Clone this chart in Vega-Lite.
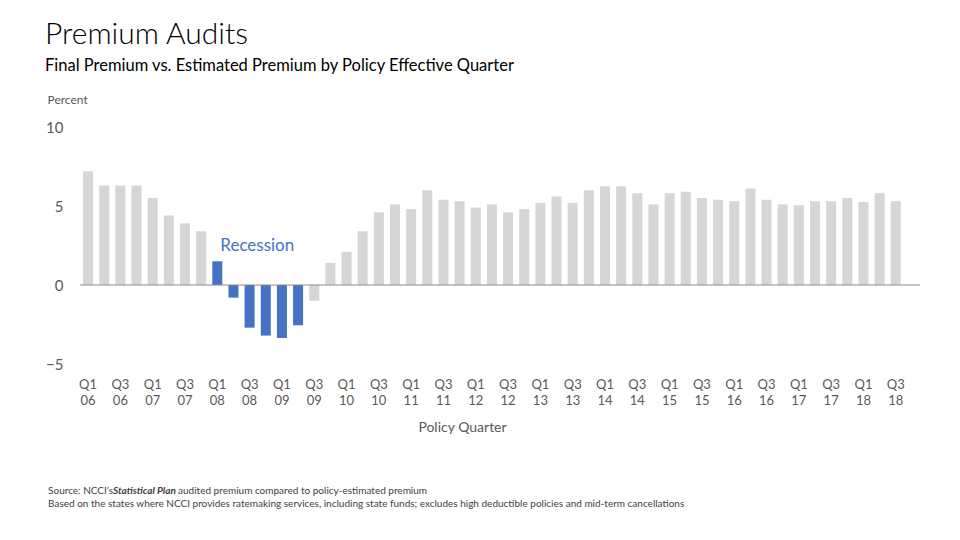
{
  "$schema": "https://vega.github.io/schema/vega-lite/v6.json",
  "width": 840,
  "height": 237,
  "autosize": {"type": "none"},
  "padding": {"left": 80, "top": 127, "right": 40, "bottom": 176},
  "background": "white",
  "config": {"view": {"stroke": null}, "font": "Lato"},
  "title": {
    "text": "Premium Audits",
    "subtitle": "Final Premium vs. Estimated Premium by Policy Effective Quarter",
    "anchor": "start",
    "frame": "group",
    "dx": -35,
    "offset": 19,
    "font": "Lato",
    "fontSize": 30,
    "fontWeight": 300,
    "color": "#000000",
    "subtitleFont": "Lato",
    "subtitleFontSize": 16.5,
    "subtitleColor": "#000000",
    "subtitlePadding": 8
  },
  "layer": [
    {
      "data": {
        "values": [
          {"quarter": "Q1 06", "value": 7.2, "period": "Other"},
          {"quarter": "Q2 06", "value": 6.3, "period": "Other"},
          {"quarter": "Q3 06", "value": 6.3, "period": "Other"},
          {"quarter": "Q4 06", "value": 6.3, "period": "Other"},
          {"quarter": "Q1 07", "value": 5.5, "period": "Other"},
          {"quarter": "Q2 07", "value": 4.4, "period": "Other"},
          {"quarter": "Q3 07", "value": 3.9, "period": "Other"},
          {"quarter": "Q4 07", "value": 3.4, "period": "Other"},
          {"quarter": "Q1 08", "value": 1.5, "period": "Recession"},
          {"quarter": "Q2 08", "value": -0.8, "period": "Recession"},
          {"quarter": "Q3 08", "value": -2.7, "period": "Recession"},
          {"quarter": "Q4 08", "value": -3.2, "period": "Recession"},
          {"quarter": "Q1 09", "value": -3.35, "period": "Recession"},
          {"quarter": "Q2 09", "value": -2.55, "period": "Recession"},
          {"quarter": "Q3 09", "value": -1.0, "period": "Other"},
          {"quarter": "Q4 09", "value": 1.4, "period": "Other"},
          {"quarter": "Q1 10", "value": 2.1, "period": "Other"},
          {"quarter": "Q2 10", "value": 3.4, "period": "Other"},
          {"quarter": "Q3 10", "value": 4.6, "period": "Other"},
          {"quarter": "Q4 10", "value": 5.1, "period": "Other"},
          {"quarter": "Q1 11", "value": 4.8, "period": "Other"},
          {"quarter": "Q2 11", "value": 6.0, "period": "Other"},
          {"quarter": "Q3 11", "value": 5.4, "period": "Other"},
          {"quarter": "Q4 11", "value": 5.3, "period": "Other"},
          {"quarter": "Q1 12", "value": 4.9, "period": "Other"},
          {"quarter": "Q2 12", "value": 5.1, "period": "Other"},
          {"quarter": "Q3 12", "value": 4.6, "period": "Other"},
          {"quarter": "Q4 12", "value": 4.8, "period": "Other"},
          {"quarter": "Q1 13", "value": 5.2, "period": "Other"},
          {"quarter": "Q2 13", "value": 5.6, "period": "Other"},
          {"quarter": "Q3 13", "value": 5.2, "period": "Other"},
          {"quarter": "Q4 13", "value": 6.0, "period": "Other"},
          {"quarter": "Q1 14", "value": 6.25, "period": "Other"},
          {"quarter": "Q2 14", "value": 6.25, "period": "Other"},
          {"quarter": "Q3 14", "value": 5.8, "period": "Other"},
          {"quarter": "Q4 14", "value": 5.1, "period": "Other"},
          {"quarter": "Q1 15", "value": 5.8, "period": "Other"},
          {"quarter": "Q2 15", "value": 5.9, "period": "Other"},
          {"quarter": "Q3 15", "value": 5.5, "period": "Other"},
          {"quarter": "Q4 15", "value": 5.4, "period": "Other"},
          {"quarter": "Q1 16", "value": 5.3, "period": "Other"},
          {"quarter": "Q2 16", "value": 6.1, "period": "Other"},
          {"quarter": "Q3 16", "value": 5.4, "period": "Other"},
          {"quarter": "Q4 16", "value": 5.1, "period": "Other"},
          {"quarter": "Q1 17", "value": 5.05, "period": "Other"},
          {"quarter": "Q2 17", "value": 5.3, "period": "Other"},
          {"quarter": "Q3 17", "value": 5.3, "period": "Other"},
          {"quarter": "Q4 17", "value": 5.5, "period": "Other"},
          {"quarter": "Q1 18", "value": 5.25, "period": "Other"},
          {"quarter": "Q2 18", "value": 5.8, "period": "Other"},
          {"quarter": "Q3 18", "value": 5.3, "period": "Other"}
        ]
      },
      "mark": {"type": "bar"},
      "encoding": {
        "x": {
          "field": "quarter",
          "type": "ordinal",
          "sort": null,
          "scale": {
            "domain": ["Q1 06","Q2 06","Q3 06","Q4 06","Q1 07","Q2 07","Q3 07","Q4 07","Q1 08","Q2 08","Q3 08","Q4 08","Q1 09","Q2 09","Q3 09","Q4 09","Q1 10","Q2 10","Q3 10","Q4 10","Q1 11","Q2 11","Q3 11","Q4 11","Q1 12","Q2 12","Q3 12","Q4 12","Q1 13","Q2 13","Q3 13","Q4 13","Q1 14","Q2 14","Q3 14","Q4 14","Q1 15","Q2 15","Q3 15","Q4 15","Q1 16","Q2 16","Q3 16","Q4 16","Q1 17","Q2 17","Q3 17","Q4 17","Q1 18","Q2 18","Q3 18","Q4 18"],
            "paddingInner": 0.38,
            "paddingOuter": 0.19
          },
          "axis": {
            "title": "Policy Quarter",
            "values": ["Q1 06","Q3 06","Q1 07","Q3 07","Q1 08","Q3 08","Q1 09","Q3 09","Q1 10","Q3 10","Q1 11","Q3 11","Q1 12","Q3 12","Q1 13","Q3 13","Q1 14","Q3 14","Q1 15","Q3 15","Q1 16","Q3 16","Q1 17","Q3 17","Q1 18","Q3 18"],
            "labelExpr": "split(datum.value, ' ')",
            "labelAngle": 0,
            "domain": false,
            "ticks": false,
            "grid": false,
            "labelFontSize": 13,
            "labelColor": "#595959",
            "labelPadding": 14,
            "labelLineHeight": 16,
            "titleFontSize": 14,
            "titleFontWeight": "normal",
            "titleColor": "#595959",
            "titleAlign": "center",
            "titleBaseline": "alphabetic",
            "titleX": 382,
            "titleY": 67
          }
        },
        "y": {
          "field": "value",
          "type": "quantitative",
          "scale": {"domain": [-5, 10], "nice": false},
          "axis": {
            "title": "Percent",
            "values": [-5, 0, 5, 10],
            "domain": false,
            "ticks": false,
            "grid": false,
            "labelFontSize": 15,
            "labelColor": "#595959",
            "labelPadding": 17,
            "titleAngle": 0,
            "titleAlign": "left",
            "titleBaseline": "alphabetic",
            "titleX": -33,
            "titleY": -24,
            "titleFontSize": 12,
            "titleFontWeight": "normal",
            "titleColor": "#595959"
          }
        },
        "color": {
          "field": "period",
          "type": "nominal",
          "scale": {"domain": ["Recession", "Other"], "range": ["#4472C4", "#D6D6D6"]},
          "legend": null
        }
      }
    },
    {
      "data": {"values": [{"zero": 0}]},
      "mark": {"type": "rule", "color": "#8C8C8C", "strokeWidth": 1},
      "encoding": {"y": {"field": "zero", "type": "quantitative"}}
    },
    {
      "data": {"values": [{"label": "Recession"}]},
      "mark": {"type": "text", "align": "left", "baseline": "alphabetic", "dx": 3, "fontSize": 17, "color": "#4472C4", "font": "Lato"},
      "encoding": {
        "x": {"datum": "Q1 08", "type": "ordinal"},
        "y": {"datum": 2.15, "type": "quantitative"},
        "text": {"field": "label"}
      }
    },
    {
      "data": {"values": [{"label": "Source: NCCI’s"}]},
      "mark": {"type": "text", "align": "left", "baseline": "alphabetic", "dx": -35, "fontSize": 10, "color": "#404040", "font": "Lato"},
      "encoding": {
        "x": {"datum": "Q1 06", "type": "ordinal", "bandPosition": 0},
        "y": {"datum": -13.23, "type": "quantitative"},
        "text": {"field": "label"}
      }
    },
    {
      "data": {"values": [{"label": "Statistical Plan"}]},
      "mark": {"type": "text", "align": "left", "baseline": "alphabetic", "dx": 30, "fontSize": 10, "fontStyle": "italic", "fontWeight": "bold", "color": "#404040", "font": "Lato"},
      "encoding": {
        "x": {"datum": "Q1 06", "type": "ordinal", "bandPosition": 0},
        "y": {"datum": -13.23, "type": "quantitative"},
        "text": {"field": "label"}
      }
    },
    {
      "data": {"values": [{"label": "audited premium compared to policy-estimated premium"}]},
      "mark": {"type": "text", "align": "left", "baseline": "alphabetic", "dx": 95, "fontSize": 10, "color": "#404040", "font": "Lato"},
      "encoding": {
        "x": {"datum": "Q1 06", "type": "ordinal", "bandPosition": 0},
        "y": {"datum": -13.23, "type": "quantitative"},
        "text": {"field": "label"}
      }
    },
    {
      "data": {"values": [{"label": "Based on the states where NCCI provides ratemaking services, including state funds; excludes high deductible policies and mid-term cancellations"}]},
      "mark": {"type": "text", "align": "left", "baseline": "alphabetic", "dx": -35, "fontSize": 10, "color": "#404040", "font": "Lato"},
      "encoding": {
        "x": {"datum": "Q1 06", "type": "ordinal", "bandPosition": 0},
        "y": {"datum": -14.05, "type": "quantitative"},
        "text": {"field": "label"}
      }
    }
  ]
}
